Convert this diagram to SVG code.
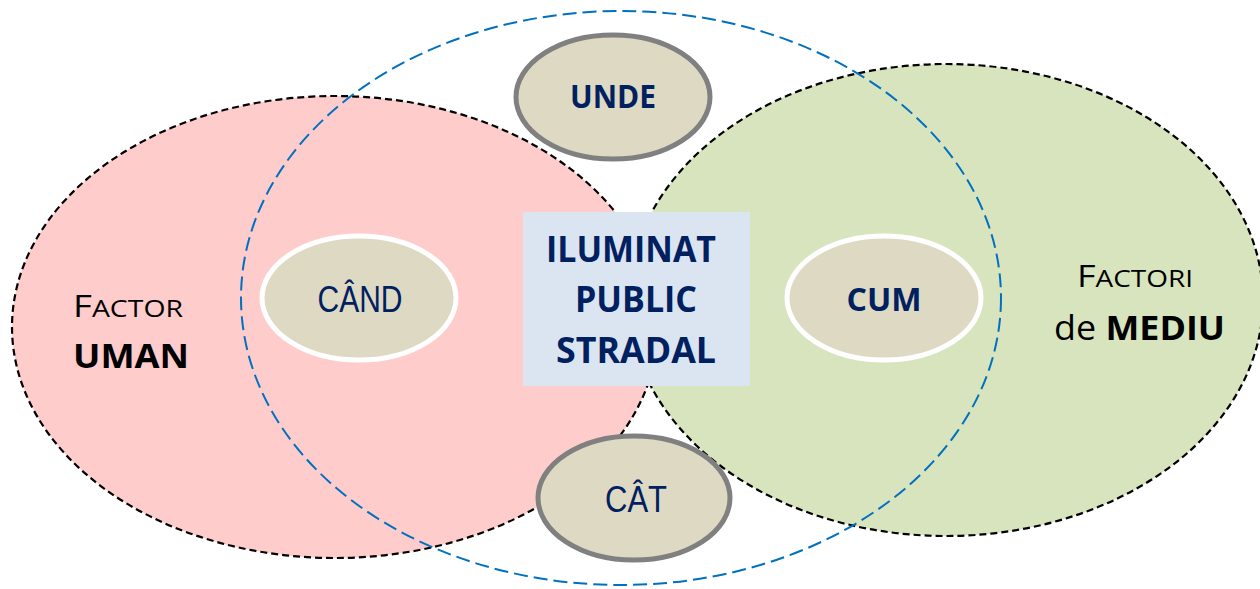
<svg xmlns="http://www.w3.org/2000/svg" width="1260" height="589" viewBox="0 0 1260 589">
<style>
.big{stroke:#000;stroke-width:2.2;stroke-dasharray:7 4}
.blue{fill:none;stroke:#0070C0;stroke-width:2;stroke-dasharray:14 6}
.ng{fill:#DDD9C3;stroke:#808080;stroke-width:5}
.nw{fill:#DDD9C3;stroke:#fff;stroke-width:5}
.t{font-family:"Open Sans","Liberation Sans",sans-serif;fill:#002060;text-anchor:middle}
.n{font-family:"Liberation Sans",sans-serif;fill:#002060;text-anchor:middle}
.k{font-family:"Open Sans","Liberation Sans",sans-serif;fill:#000}
</style>
<rect width="1260" height="589" fill="#fff"/>
<g id="factor-uman">
<ellipse cx="335" cy="327" rx="323" ry="231" fill="#FFCCCC" class="big"/>
<text class="k" x="73" y="317" textLength="110" lengthAdjust="spacingAndGlyphs"><tspan font-size="31">F</tspan><tspan font-size="24">ACTOR</tspan></text>
<text class="k" x="73" y="368" font-size="34" font-weight="bold" textLength="116" lengthAdjust="spacingAndGlyphs">UMAN</text>
</g>
<g id="factori-mediu">
<ellipse cx="946" cy="300" rx="317" ry="236" fill="#D8E4BD" class="big"/>
<text class="k" x="1077" y="287" textLength="116" lengthAdjust="spacingAndGlyphs"><tspan font-size="31">F</tspan><tspan font-size="24">ACTORI</tspan></text>
<text class="k" x="1054" y="340" font-size="34" textLength="171" lengthAdjust="spacingAndGlyphs">de <tspan font-weight="bold">MEDIU</tspan></text>
</g>
<g id="connectors">
<ellipse class="blue" cx="621" cy="298" rx="380" ry="287"/>
</g>
<g id="iluminat">
<rect x="523" y="212" width="227" height="174" fill="#DBE5F1"/>
<text class="t" font-size="36" font-weight="bold"><tspan x="631" y="262" textLength="170" lengthAdjust="spacingAndGlyphs">ILUMINAT</tspan><tspan x="636" y="312" textLength="122" lengthAdjust="spacingAndGlyphs">PUBLIC</tspan><tspan x="636" y="363" textLength="160" lengthAdjust="spacingAndGlyphs">STRADAL</tspan></text>
</g>
<g id="unde">
<ellipse class="ng" cx="613" cy="97" rx="97" ry="62"/>
<text class="t" x="613" y="108" font-size="32" font-weight="bold" textLength="86" lengthAdjust="spacingAndGlyphs">UNDE</text>
</g>
<g id="cat">
<ellipse class="ng" cx="634" cy="498" rx="96" ry="62"/>
<text class="n" x="636" y="512" font-size="36" textLength="62" lengthAdjust="spacingAndGlyphs">CÂT</text>
</g>
<g id="cand">
<ellipse class="nw" cx="359" cy="298" rx="97" ry="62"/>
<text class="n" x="360" y="312" font-size="36" textLength="85" lengthAdjust="spacingAndGlyphs">CÂND</text>
</g>
<g id="cum">
<ellipse class="nw" cx="884" cy="298" rx="97" ry="62"/>
<text class="t" x="884" y="311" font-size="33" font-weight="bold" textLength="75" lengthAdjust="spacingAndGlyphs">CUM</text>
</g>
</svg>
